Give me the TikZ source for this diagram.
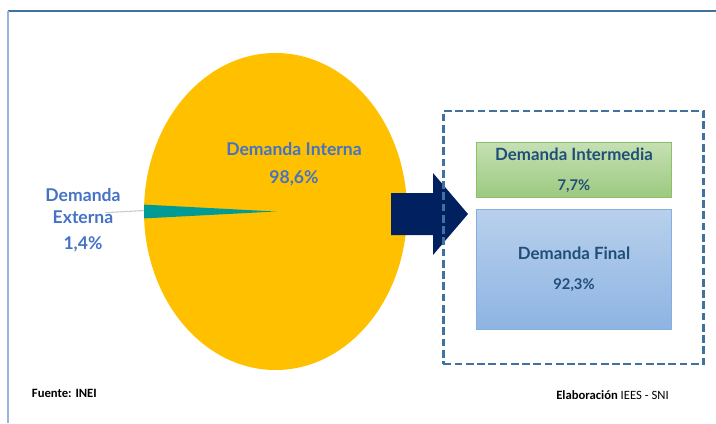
\documentclass[tikz,border=0pt]{standalone}
\usepackage{fontspec}
\setmainfont{Lato}
\newfontfamily\notefont{Carlito}
\definecolor{pieyellow}{HTML}{FFC000}
\definecolor{pieteal}{HTML}{009B95}
\definecolor{lblblue}{HTML}{4472C4}
\definecolor{boxtext}{HTML}{1F4E79}
\definecolor{arrownavy}{HTML}{002060}
\definecolor{dashblue}{HTML}{41719C}
\definecolor{greentop}{HTML}{C5E0B3}
\definecolor{greenbot}{HTML}{9CC97F}
\definecolor{greenline}{HTML}{8CC168}
\definecolor{bluetop}{HTML}{B8D0EC}
\definecolor{bluebot}{HTML}{8EB4E3}
\definecolor{blueline}{HTML}{86AEE0}
\tikzset{
	pielbl/.style={align=center,text=lblblue,inner sep=0pt,font=\bfseries\fontsize{12.5}{20}\selectfont},
	demandbox/.style={draw,line width=0.8pt,minimum width=4.89cm,inner sep=0pt,align=center,text=boxtext,font=\bfseries\fontsize{12}{21}\selectfont},
	note/.style={anchor=west,inner sep=0pt,font=\notefont\fontsize{9}{11}\selectfont}
}
\begin{document}
\begin{tikzpicture}[x=0.025cm,y=-0.025cm]
	\useasboundingbox (0,0) rectangle (716,423);
	% marco
	\draw[line width=1pt,dashblue] (8,11)--(716,11);
	\draw[line width=1.2pt,lblblue!55] (8,11)--(8,423);
	% torta
	\coordinate (pie) at (275.5,211.5);
	\coordinate (slc) at (144,210.5);
	\coordinate (lead) at (105,212.7);
	\fill[pieyellow] (pie) ellipse[x radius=131.5,y radius=158.5];
	\fill[pieteal] (pie)--++(177.5:131.5 and 158.5) arc[start angle=177.5,end angle=182.5,x radius=131.5,y radius=158.5]--cycle;
	\draw[line width=0.8pt,black!20] (slc)--(lead);
	\node[pielbl] (interna) at (294,164) {Demanda Interna\\98,6\%};
	\node[pielbl,font=\bfseries\fontsize{12.5}{15.6}\selectfont] (externa) at (83,220) {Demanda\\Externa\\[3pt]1,4\%};
	% flecha
	\fill[arrownavy] (391,193)--(433,193)--(433,173)--(468,214)--(433,255)--(433,235)--(391,235)--cycle;
	% demanda interna
	\node[draw=dashblue,dash pattern=on 5.5pt off 2.5pt,line width=1.8pt,minimum width=6.5cm,minimum height=6.33cm] (intfr) at (573.3,237.4) {};
	\node[demandbox,draw=greenline,top color=greentop,bottom color=greenbot,minimum height=1.375cm] (inter) at (574,170.2) {Demanda Intermedia\\{\fontsize{10.5}{21}\selectfont 7,7\%}};
	\node[demandbox,draw=blueline,top color=bluetop,bottom color=bluebot,minimum height=3cm] (final) at (574,269.3) {Demanda Final\\{\fontsize{10.5}{21}\selectfont 92,3\%}};
	% notas
	\node[note] (fuente) at (31.7,393) {\bfseries Fuente: INEI};
	\node[note] (elab) at (556,395) {{\bfseries Elaboración} IEES - SNI};
\end{tikzpicture}
\end{document}
